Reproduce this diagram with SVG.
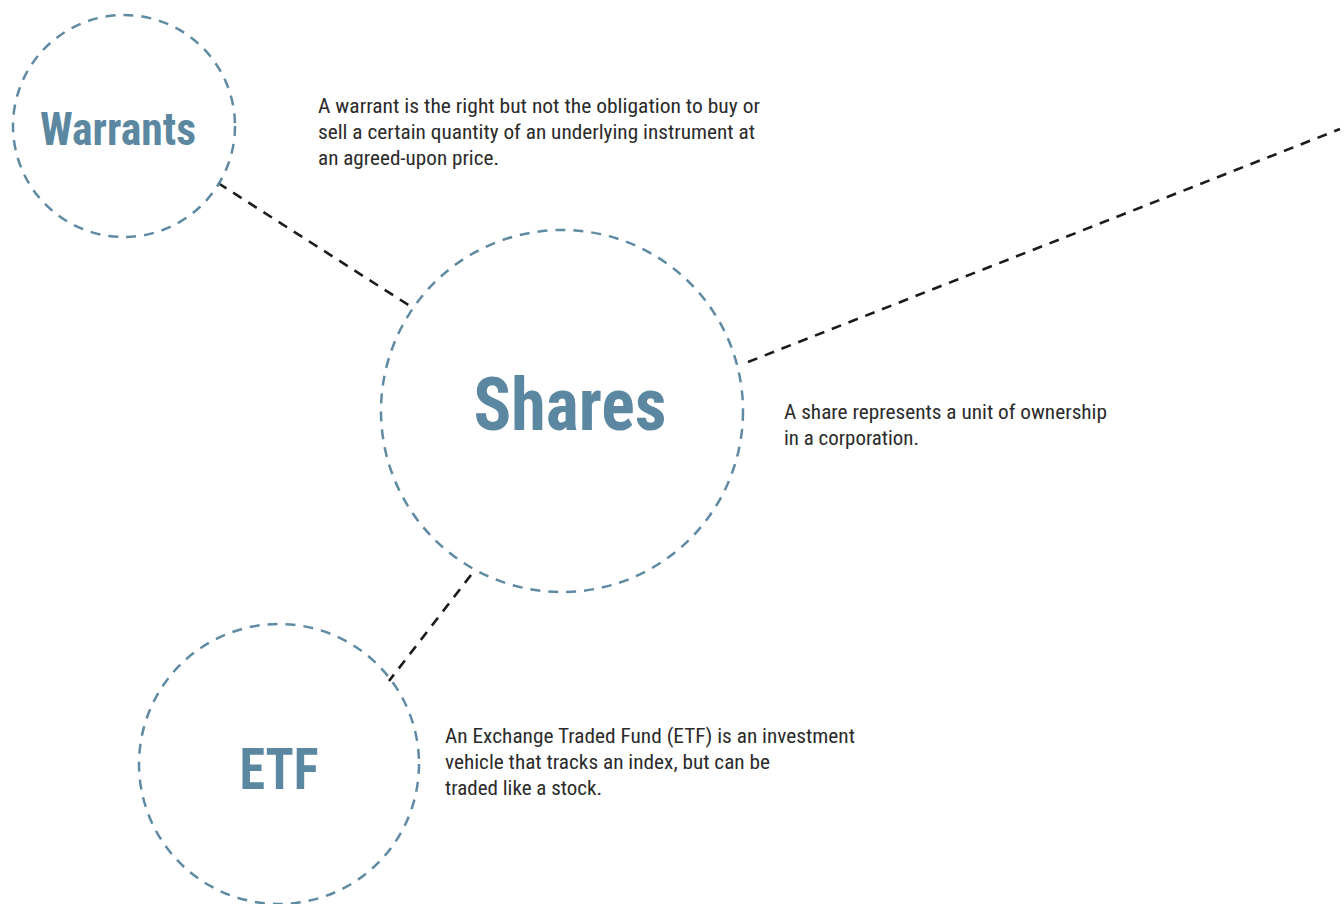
<svg xmlns="http://www.w3.org/2000/svg" width="1344" height="904" viewBox="0 0 1344 904">
  <style>
    .ring { fill: none; stroke: #5f8aa3; stroke-width: 2.5; stroke-dasharray: 10 8; }
    .link { fill: none; stroke: #1c1c1c; stroke-width: 2.6; stroke-dasharray: 10 8; }
    .title { font-family: "Liberation Sans Narrow", "Roboto Condensed", "Liberation Sans", Arial, sans-serif; font-weight: bold; fill: #5b87a1; text-anchor: middle; }
    .desc { font-family: "Liberation Sans Narrow", "Roboto Condensed", "Liberation Sans", Arial, sans-serif; font-size: 21px; fill: #2b2b2b; }
  </style>
  <rect width="1344" height="904" fill="#ffffff"/>

  <!-- connectors -->
  <g id="connectors">
    <line class="link" x1="218" y1="183" x2="410" y2="306"/>
    <line class="link" x1="748" y1="362" x2="1340" y2="129"/>
    <line class="link" x1="471" y1="575" x2="389" y2="681"/>
  </g>

  <!-- Warrants -->
  <g id="warrants">
    <circle class="ring" cx="124" cy="126" r="111"/>
    <text class="title" x="118" y="145" font-size="46" textLength="156" lengthAdjust="spacingAndGlyphs">Warrants</text>
    <text class="desc" x="318" y="113" textLength="442" lengthAdjust="spacingAndGlyphs">A warrant is the right but not the obligation to buy or</text>
    <text class="desc" x="318" y="139" textLength="437" lengthAdjust="spacingAndGlyphs">sell a certain quantity of an underlying instrument at</text>
    <text class="desc" x="318" y="165" textLength="181" lengthAdjust="spacingAndGlyphs">an agreed-upon price.</text>
  </g>

  <!-- Shares -->
  <g id="shares">
    <circle class="ring" cx="562" cy="411" r="181"/>
    <text class="title" x="570" y="430" font-size="75" textLength="193" lengthAdjust="spacingAndGlyphs">Shares</text>
    <text class="desc" x="784" y="419" textLength="323" lengthAdjust="spacingAndGlyphs">A share represents a unit of ownership</text>
    <text class="desc" x="784" y="445" textLength="135" lengthAdjust="spacingAndGlyphs">in a corporation.</text>
  </g>

  <!-- ETF -->
  <g id="etf">
    <circle class="ring" cx="279" cy="764" r="140"/>
    <text class="title" x="279" y="789" font-size="57" textLength="79" lengthAdjust="spacingAndGlyphs">ETF</text>
    <text class="desc" x="445" y="743" textLength="410" lengthAdjust="spacingAndGlyphs">An Exchange Traded Fund (ETF) is an investment</text>
    <text class="desc" x="445" y="769" textLength="325" lengthAdjust="spacingAndGlyphs">vehicle that tracks an index, but can be</text>
    <text class="desc" x="445" y="795" textLength="157" lengthAdjust="spacingAndGlyphs">traded like a stock.</text>
  </g>
</svg>
